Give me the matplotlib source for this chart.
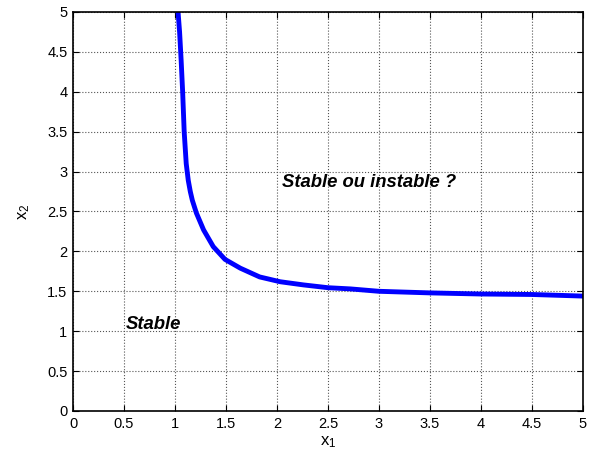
import matplotlib
matplotlib.use("Agg")
import matplotlib.pyplot as plt

x1 = [1.03, 1.045, 1.06, 1.075, 1.09, 1.11, 1.13, 1.15, 1.17, 1.21, 1.28, 1.375,
      1.49, 1.64, 1.83, 2.03, 2.26, 2.5, 2.72, 3.0, 3.5, 4.0, 4.5, 5.0]
x2 = [5.0, 4.75, 4.4, 4.0, 3.5, 3.1, 2.89, 2.75, 2.64, 2.48, 2.27, 2.06,
      1.90, 1.79, 1.68, 1.62, 1.58, 1.545, 1.53, 1.50, 1.48, 1.466, 1.46, 1.44]
ticks = [0, 0.5, 1, 1.5, 2, 2.5, 3, 3.5, 4, 4.5, 5]
tick_labels = ['0', '0.5', '1', '1.5', '2', '2.5', '3', '3.5', '4', '4.5', '5']

plt.rcParams['font.family'] = ['Liberation Sans', 'DejaVu Sans']
plt.rcParams['mathtext.default'] = 'regular'

fig = plt.figure(figsize=(5.98, 4.62), dpi=100)
ax = fig.add_axes([73/598, 1-411/462, 510/598, 399/462])
ax.plot(x1, x2, color=(0, 0, 1), linewidth=3.5, solid_joinstyle='round')
ax.set_xlim(0, 5)
ax.set_ylim(0, 5)
ax.set_xticks(ticks)
ax.set_xticklabels(tick_labels)
ax.set_yticks(ticks)
ax.set_yticklabels(tick_labels)
ax.tick_params(direction='in', length=4, width=0.8, top=True, right=True,
               labelsize=10.5, pad=4, colors='black')
ax.grid(True, linestyle=':', color='#555555', linewidth=0.8)
for s in ax.spines.values():
    s.set_linewidth(1.2)
ax.set_xlabel('$x_1$', fontsize=12, labelpad=3)
ax.set_ylabel('$x_2$', fontsize=12, labelpad=11)
ax.text(0.52, 1.09, 'Stable', fontsize=13.3, fontweight='bold', fontstyle='italic',
        va='center', ha='left')
ax.text(2.05, 2.86, 'Stable ou instable ?', fontsize=13.3, fontweight='bold',
        fontstyle='italic', va='center', ha='left')
fig.savefig('out.png', dpi=100)
